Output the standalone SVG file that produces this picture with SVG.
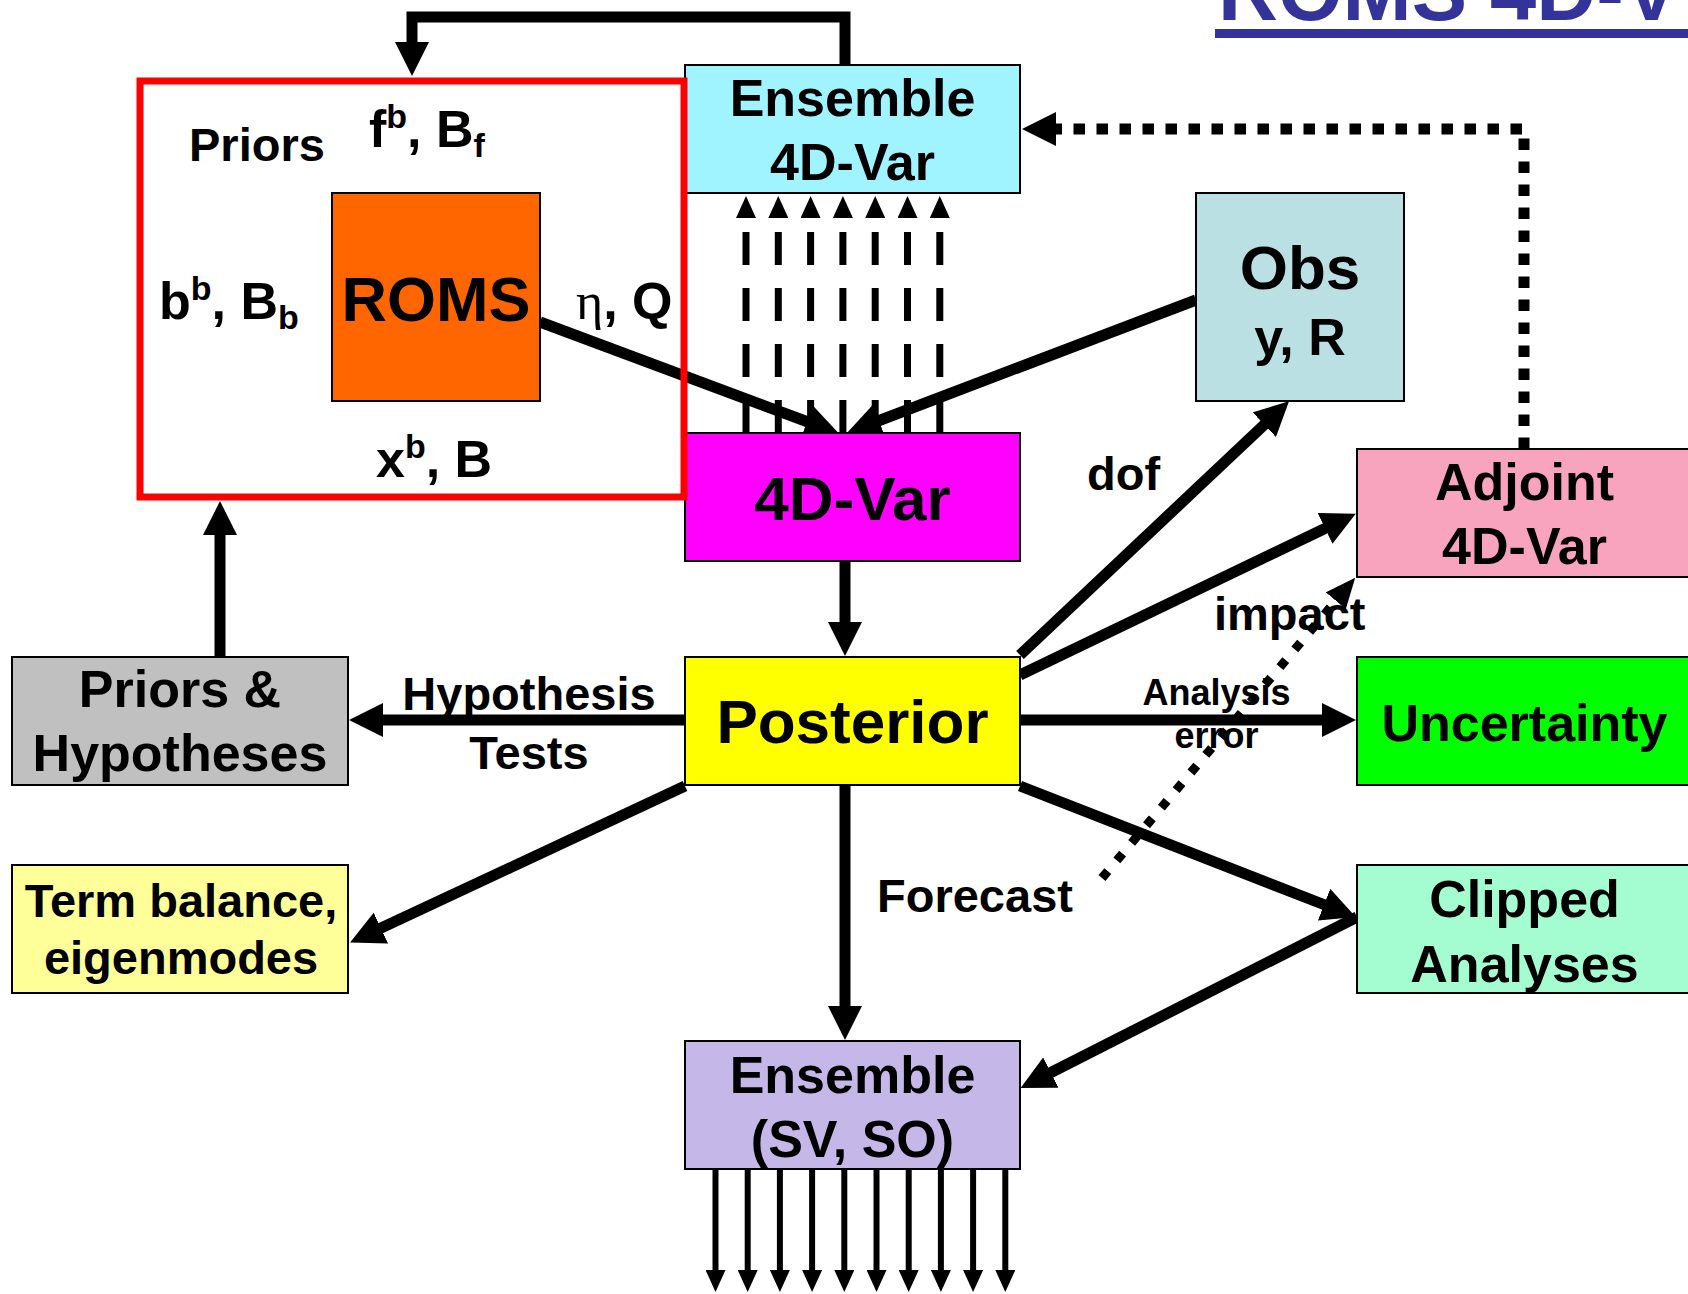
<svg xmlns="http://www.w3.org/2000/svg" width="1688" height="1294" viewBox="0 0 1688 1294">
<style>
.box{stroke:#000;stroke-width:2}
.t62{font:bold 62px "Liberation Sans",Arial,sans-serif;fill:#000}
.t52{font:bold 52px "Liberation Sans",Arial,sans-serif;fill:#000}
.t47{font:bold 47px "Liberation Sans",Arial,sans-serif;fill:#000}
.t36{font:bold 36px "Liberation Sans",Arial,sans-serif;fill:#000}
.mid{text-anchor:middle}
.sm{font-size:34px}
.eta{font-family:"Liberation Serif","Times New Roman",serif;font-weight:normal}
.con{fill:none;stroke:#000;stroke-width:11}
.dash{fill:none;stroke:#000;stroke-width:7;stroke-dasharray:33 23}
.thin{fill:none;stroke:#000;stroke-width:6}
.dot{fill:none;stroke:#000;stroke-width:11;stroke-dasharray:11.5 11.5}
.dotd{fill:none;stroke:#000;stroke-width:9;stroke-dasharray:9 14}
</style>
<defs>
<marker id="ah" markerUnits="userSpaceOnUse" viewBox="0 0 34 34" markerWidth="34" markerHeight="34" refX="1" refY="17" orient="auto"><path d="M0,0 L34,17 L0,34 z" fill="#000" stroke="none"/></marker>
<marker id="ahs" markerUnits="userSpaceOnUse" viewBox="0 0 22 20" markerWidth="22" markerHeight="20" refX="1" refY="10" orient="auto"><path d="M0,0 L22,10 L0,20 z" fill="#000" stroke="none"/></marker>
<marker id="ahd" markerUnits="userSpaceOnUse" viewBox="0 0 30 26" markerWidth="30" markerHeight="26" refX="1" refY="13" orient="auto"><path d="M0,0 L30,13 L0,26 z" fill="#000" stroke="none"/></marker>
</defs>
<rect width="1688" height="1294" fill="#fff"/>

<g id="title">
<text x="1218" y="20" style="font:bold 83px 'Liberation Sans',Arial,sans-serif;fill:#333399">ROMS 4D-V</text>
<rect x="1215" y="29" width="473" height="9" fill="#333399"/>
</g>

<g id="connectors">
<path class="con" d="M845,65 V17 H412 V43" marker-end="url(#ah)"/>
<path class="con" d="M540,322 L808,422" marker-end="url(#ah)"/>
<path class="con" d="M1196,300 L878,421" marker-end="url(#ah)"/>
<path class="con" d="M845,561 V623" marker-end="url(#ah)"/>
<path class="con" d="M685,720 H382" marker-end="url(#ah)"/>
<path class="con" d="M220,657 V534" marker-end="url(#ah)"/>
<path class="con" d="M685,786 L380,928.5" marker-end="url(#ah)"/>
<path class="con" d="M1020,655 L1265,424" marker-end="url(#ah)"/>
<path class="con" d="M1020,675 L1326,528" marker-end="url(#ah)"/>
<path class="con" d="M1020,720 H1323" marker-end="url(#ah)"/>
<path class="con" d="M1020,786 L1325,905" marker-end="url(#ah)"/>
<path class="con" d="M1357,917 L1050,1073" marker-end="url(#ah)"/>
<path class="con" d="M845,785 V1007" marker-end="url(#ah)"/>
<path class="dash" d="M746,433 V217" marker-end="url(#ahs)"/>
<path class="dash" d="M778.3,433 V217" marker-end="url(#ahs)"/>
<path class="dash" d="M810.6,433 V217" marker-end="url(#ahs)"/>
<path class="dash" d="M842.9,433 V217" marker-end="url(#ahs)"/>
<path class="dash" d="M875.2,433 V217" marker-end="url(#ahs)"/>
<path class="dash" d="M907.5,433 V217" marker-end="url(#ahs)"/>
<path class="dash" d="M939.8,433 V217" marker-end="url(#ahs)"/>
<path class="thin" d="M715.5,1169 V1271" marker-end="url(#ahs)"/>
<path class="thin" d="M747.7,1169 V1271" marker-end="url(#ahs)"/>
<path class="thin" d="M779.9,1169 V1271" marker-end="url(#ahs)"/>
<path class="thin" d="M812.1,1169 V1271" marker-end="url(#ahs)"/>
<path class="thin" d="M844.3,1169 V1271" marker-end="url(#ahs)"/>
<path class="thin" d="M876.5,1169 V1271" marker-end="url(#ahs)"/>
<path class="thin" d="M908.7,1169 V1271" marker-end="url(#ahs)"/>
<path class="thin" d="M940.9,1169 V1271" marker-end="url(#ahs)"/>
<path class="thin" d="M973.1,1169 V1271" marker-end="url(#ahs)"/>
<path class="thin" d="M1005.3,1169 V1271" marker-end="url(#ahs)"/>
<path class="dot" d="M1524,449 V129 H1055" marker-end="url(#ah)"/>
<path class="dotd" d="M1102,878 L1336.5,600" marker-end="url(#ahd)"/>
</g>

<g id="ens4dvar">
<rect class="box" x="685" y="65" width="335" height="128" fill="#A0F4FF"/>
<text class="t52 mid" x="852.5" y="116">Ensemble</text>
<text class="t52 mid" x="852.5" y="180">4D-Var</text>
</g>
<g id="obs">
<rect class="box" x="1196" y="193" width="208" height="208" fill="#BBE0E3"/>
<text class="t62 mid" x="1300" y="289">Obs</text>
<text class="t52 mid" x="1300" y="355">y, R</text>
</g>
<g id="fourdvar">
<rect class="box" x="685" y="433" width="335" height="128" fill="#FF00FF"/>
<text class="t62 mid" x="852.5" y="520">4D-Var</text>
</g>
<g id="posterior">
<rect class="box" x="685" y="657" width="335" height="128" fill="#FFFF00"/>
<text class="t62 mid" x="852.5" y="743">Posterior</text>
</g>
<g id="adjoint">
<rect class="box" x="1357" y="449" width="340" height="128" fill="#F9A4BF"/>
<text class="t52 mid" x="1524.5" y="500">Adjoint</text>
<text class="t52 mid" x="1524.5" y="564">4D-Var</text>
</g>
<g id="uncertainty">
<rect class="box" x="1357" y="657" width="340" height="128" fill="#00FF00"/>
<text class="t52 mid" x="1524.5" y="741">Uncertainty</text>
</g>
<g id="clipped">
<rect class="box" x="1357" y="865" width="340" height="128" fill="#A3FDD0"/>
<text class="t52 mid" x="1524.5" y="917">Clipped</text>
<text class="t52 mid" x="1524.5" y="982">Analyses</text>
</g>
<g id="enssvso">
<rect class="box" x="685" y="1041" width="335" height="128" fill="#C5B8E8"/>
<text class="t52 mid" x="852.5" y="1093">Ensemble</text>
<text class="t52 mid" x="852.5" y="1157">(SV, SO)</text>
</g>
<g id="priorshyp">
<rect class="box" x="12" y="657" width="336" height="128" fill="#C0C0C0"/>
<text class="t52 mid" x="180" y="707">Priors &amp;</text>
<text class="t52 mid" x="180" y="771">Hypotheses</text>
</g>
<g id="termbalance">
<rect class="box" x="12" y="865" width="336" height="128" fill="#FFFF99"/>
<text class="t47 mid" x="181" y="917">Term balance,</text>
<text class="t47 mid" x="181" y="974">eigenmodes</text>
</g>
<g id="roms">
<rect class="box" x="332" y="193" width="208" height="208" fill="#FF6600"/>
<text class="t62 mid" x="436" y="321" style="font-size:63px">ROMS</text>
</g>
<g id="priors">
<rect x="140" y="81" width="544" height="416" fill="none" stroke="#FF0000" stroke-width="7"/>
<text class="t47" x="189" y="161">Priors</text>
<text class="t52" x="369" y="147">f<tspan class="sm" dy="-19">b</tspan><tspan dy="19">, B</tspan><tspan class="sm" dy="10">f</tspan></text>
<text class="t52" x="159" y="319">b<tspan class="sm" dy="-19">b</tspan><tspan dy="19">, B</tspan><tspan class="sm" dy="10">b</tspan></text>
<text class="t52" x="576" y="319"><tspan class="eta">η</tspan>, Q</text>
<text class="t52" x="376" y="477">x<tspan class="sm" dy="-19">b</tspan><tspan dy="19">, B</tspan></text>
</g>

<g id="labels">
<text class="t47 mid" x="529" y="710">Hypothesis</text>
<text class="t47 mid" x="529" y="769">Tests</text>
<text class="t36 mid" x="1216.5" y="705">Analysis</text>
<text class="t36 mid" x="1216.5" y="748">error</text>
<text class="t47" x="877" y="912">Forecast</text>
<text class="t47" x="1087" y="490">dof</text>
<text class="t47" x="1214" y="630">impact</text>
</g>
</svg>
